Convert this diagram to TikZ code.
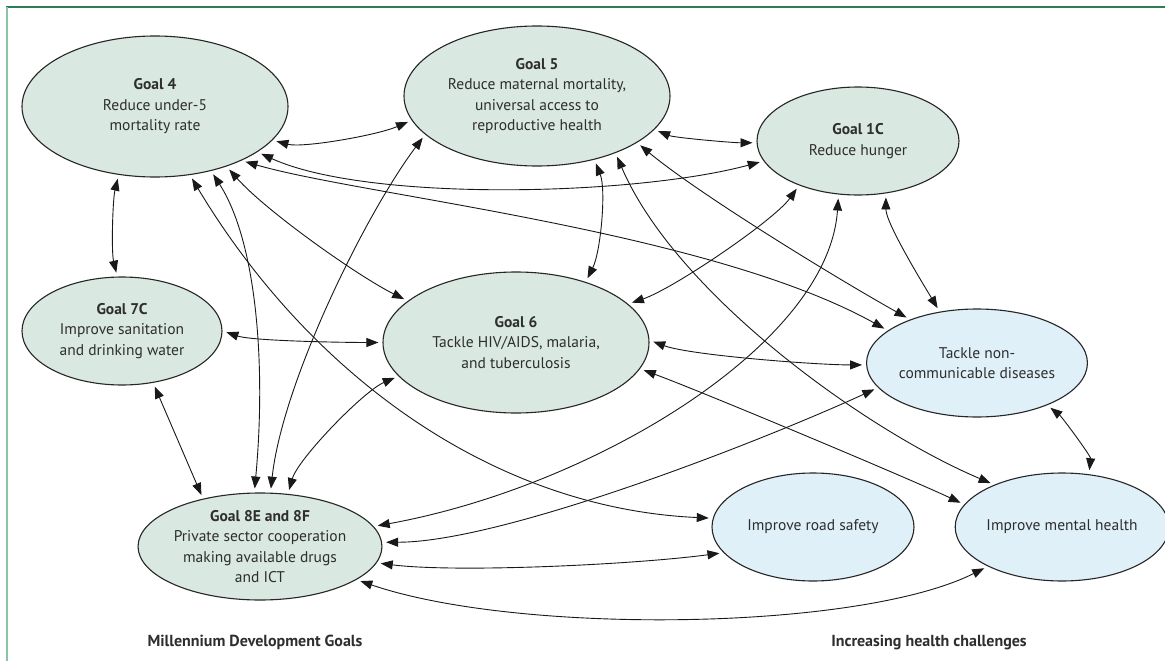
\documentclass[tikz,border=0pt]{standalone}
\usepackage{fontspec}
\setmainfont{PT Sans}
\usetikzlibrary{arrows.meta,shapes.geometric}
\definecolor{gfill}{HTML}{D9E8E1}
\definecolor{bfill}{HTML}{DFF0F8}
\definecolor{txt}{HTML}{2E2E2E}
\definecolor{frameA}{HTML}{2E7D57}
\definecolor{frameB}{HTML}{86C6A6}
\begin{document}
\begin{tikzpicture}[x=1pt,y=-1pt,
  goal/.style={ellipse,draw=black!85,line width=1.1pt,fill=gfill,inner sep=0pt,align=center,text=txt,font=\fontsize{15.5}{20.5}\selectfont},
  chal/.style={goal,fill=bfill},
  link/.style={{Triangle[length=12pt,width=9pt]}-{Triangle[length=12pt,width=9pt]},line width=0.9pt,draw=black!90,shorten <=4pt,shorten >=4pt},
  lbl/.style={font=\bfseries\fontsize{16}{18}\selectfont,text=txt,inner sep=0pt}
]
\useasboundingbox (0,0) rectangle (1165,661);
\fill[white] (0,0) rectangle (1165,661);
\draw[frameA,line width=1.2pt] (6,7) -- (1165,7);
\draw[frameB,line width=2pt] (7,7) -- (7,661);

\node[goal,minimum width=266pt,minimum height=141pt] (g4) at (155,106.5) {\textbf{Goal 4}\\Reduce under-5\\mortality rate};
\node[goal,minimum width=266pt,minimum height=140pt] (g5) at (537,96) {\textbf{Goal 5}\\Reduce maternal mortality,\\universal access to\\reproductive health};
\node[goal,minimum width=202pt,minimum height=108pt] (g1c) at (858,141) {\textbf{Goal 1C}\\Reduce hunger};
\node[goal,minimum width=200pt,minimum height=108pt] (g7c) at (122,331) {\textbf{Goal 7C}\\Improve sanitation\\and drinking water};
\node[goal,minimum width=266pt,minimum height=141pt] (g6) at (516,342.5) {\textbf{Goal 6}\\Tackle HIV/AIDS, malaria,\\and tuberculosis};
\node[chal,minimum width=200pt,minimum height=108pt] (ncd) at (977,363) {Tackle non-\\communicable diseases};
\node[goal,minimum width=200pt,minimum height=107pt] (g8) at (260,546.5) {\textbf{Goal 8E and 8F}\\Private sector cooperation\\making available drugs\\and ICT};
\node[chal,minimum width=202pt,minimum height=108pt] (road) at (813,527) {Improve road safety};
\node[chal,minimum width=200pt,minimum height=108pt] (mh) at (1062,527) {Improve mental health};

\node[lbl] (mdg) at (255,642) {Millennium Development Goals};
\node[lbl] (ihc) at (929,643) {Increasing health challenges};

\draw[link] (g4.-16) .. controls +(30,8) and +(-35,15) .. (g5.191);
\draw[link] (g4.-24) .. controls +(110,50) and +(-130,35) .. (g1c.192);
\draw[link] (g4.-32) .. controls +(120,35) and +(-180,-100) .. (ncd.160);
\draw[link] (g4.-40) .. controls +(40,45) and +(-50,-25) .. (g6.159);
\draw[link] (g4.-49) .. controls +(45,70) and +(12,-130) .. (g8.96);
\draw[link] (g4.-63) .. controls +(120,200) and +(-220,-10) .. (road.175);
\draw[link] (g4.-118) .. controls +(-6,25) and +(-6,-25) .. (g7c.95);
\draw[link] (g5.-16) .. controls +(20,8) and +(-25,0) .. (g1c.181);
\draw[link] (g5.-25) .. controls +(60,50) and +(-80,-45) .. (ncd.147);
\draw[link] (g5.-36) .. controls +(60,140) and +(-130,-55) .. (mh.148);
\draw[link] (g5.-48) .. controls +(12,30) and +(15,-30) .. (g6.41);
\draw[link] (g5.199) .. controls +(-60,80) and +(12,-110) .. (g8.79);
\draw[link] (g1c.217) .. controls +(-25,35) and +(45,-15) .. (g6.19);
\draw[link] (g1c.250) .. controls +(-10,150) and +(220,-40) .. (g8.10);
\draw[link] (g1c.-62) .. controls +(0,30) and +(-15,-25) .. (ncd.126);
\draw[link] (g6.180) .. controls +(-40,0) and +(30,10) .. (g7c.0);
\draw[link] (g6.1) .. controls +(40,15) and +(-50,0) .. (ncd.181);
\draw[link] (g6.-12) .. controls +(60,22) and +(-60,-28) .. (mh.167);
\draw[link] (g6.196) .. controls +(-35,15) and +(10,-35) .. (g8.62);
\draw[link] (g7c.-59) -- (g8.140);
\draw[link] (g8.2) .. controls +(120,0) and +(-120,55) .. (ncd.194);
\draw[link] (g8.-8) .. controls +(80,10) and +(-90,12) .. (road.196);
\draw[link] (g8.-19) .. controls +(160,55) and +(-130,65) .. (mh.208);
\draw[link] (ncd.-31) .. controls +(15,12) and +(2,-18) .. (mh.63);
\end{tikzpicture}
\end{document}
